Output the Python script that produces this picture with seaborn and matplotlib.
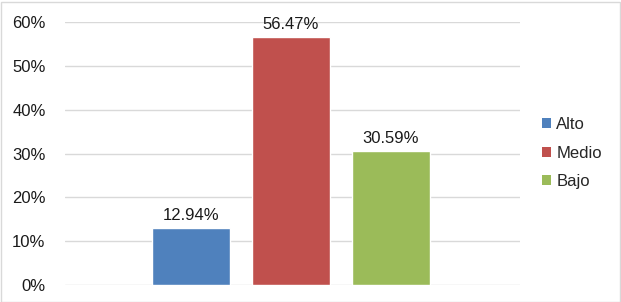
import matplotlib
matplotlib.use("Agg")
import matplotlib.pyplot as plt
import seaborn as sns
import pandas as pd
from matplotlib.patches import Patch, Rectangle

categories = ["Alto", "Medio", "Bajo"]
values = [12.94, 56.47, 30.59]
colors = ["#4F81BD", "#C0504D", "#9BBB59"]
yticks = [0, 10, 20, 30, 40, 50, 60]

df = pd.DataFrame({"cat": categories, "val": values})

sns.set_theme(style="white")
plt.rcParams['font.family'] = ['Liberation Sans', 'DejaVu Sans']

fig = plt.figure(figsize=(6.21, 3.02), dpi=100)
ax = fig.add_axes([65/621, 1-285/302, (520-65)/621, (285-22)/302])

sns.barplot(data=df, x="cat", y="val", hue="cat", palette=colors, order=categories,
            hue_order=categories, dodge=False, width=0.78, ax=ax, legend=False,
            saturation=1)

ax.set_xlim(-1.26, 3.29)
ax.set_ylim(0, 60)
ax.set_yticks(yticks)
ax.set_yticklabels([f"{t}%" for t in yticks], fontsize=12, color="#1a1a1a")
ax.set_xticks([])
ax.set_xlabel("")
ax.set_ylabel("")
ax.tick_params(axis="y", length=0, pad=14)
ax.grid(axis="y", color="#d9d9d9", linewidth=1)
ax.set_axisbelow(True)
for s in ax.spines.values():
    s.set_visible(False)

for i, v in enumerate(values):
    ax.text(i, v + 1.2, f"{v:.2f}%", ha="center", va="bottom", fontsize=12, color="#1a1a1a")

handles = [Patch(facecolor=c, edgecolor="none") for c in colors]
fig.legend(handles, categories, loc="center left", bbox_to_anchor=(527/621, 1-153/302),
           frameon=False, fontsize=12, handlelength=0.55, handleheight=0.55,
           handletextpad=0.3, labelspacing=0.8)

fig.patches.append(Rectangle((0.5/621, 0.5/302), 619/621, 300/302, transform=fig.transFigure,
                             fill=False, edgecolor="#d9d9d9", linewidth=1))

fig.savefig("out.png", dpi=100)
